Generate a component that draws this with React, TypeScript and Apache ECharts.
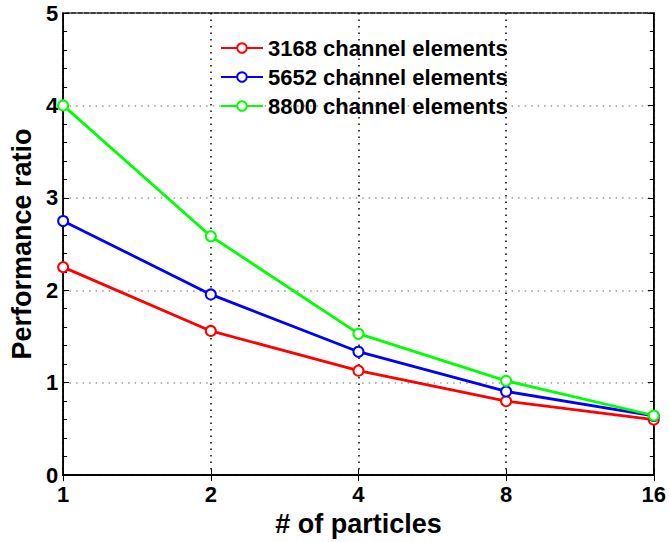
import React, { useEffect, useRef } from "react";
import * as echarts from "echarts";

const particles = ["1", "2", "4", "8", "16"];
const series3168 = [2.25, 1.56, 1.13, 0.8, 0.6];
const series5652 = [2.75, 1.955, 1.335, 0.905, 0.64];
const series8800 = [4.0, 2.585, 1.53, 1.02, 0.645];
const seriesNames = ["3168 channel elements", "5652 channel elements", "8800 channel elements"];
const seriesColors = ["#ff0000", "#0000ff", "#00ff00"];

const FONT = "'Liberation Sans', Arial, Helvetica, sans-serif";

export default function App() {
  const ref = useRef<HTMLDivElement>(null);
  useEffect(() => {
    if (!ref.current) return;
    const chart = echarts.init(ref.current, undefined, { renderer: "svg" });
    const values = [series3168, series5652, series8800];
    chart.setOption({
      animation: false,
      backgroundColor: "#fff",
      textStyle: { fontFamily: FONT },
      grid: {
        left: 58.7,
        right: 15,
        top: 13,
        bottom: 59,
        show: true,
        borderColor: "#000",
        borderWidth: 1.5,
        backgroundColor: "transparent",
      },
      legend: {
        orient: "vertical",
        left: 215,
        top: 32,
        itemWidth: 42,
        itemHeight: 12,
        itemGap: 7,
        textStyle: {
          fontFamily: FONT,
          fontSize: 22,
          fontWeight: "bold",
          color: "#000",
          lineHeight: 22,
        },
        data: seriesNames,
      },
      xAxis: [
        {
          type: "category",
          data: particles,
          boundaryGap: false,
          name: "# of particles",
          nameLocation: "middle",
          nameGap: 29,
          nameTextStyle: { fontFamily: FONT, fontSize: 27, fontWeight: "bold", color: "#000" },
          axisLine: { show: true, lineStyle: { color: "#000", width: 1.5 } },
          axisTick: { show: true, inside: true, length: 6, lineStyle: { color: "#000" } },
          axisLabel: { fontFamily: FONT, fontSize: 22, fontWeight: "bold", color: "#000", margin: 8 },
          splitLine: { show: true, lineStyle: { color: "#000", type: [1.5, 5], width: 1.5 } },
        },
        {
          type: "category",
          data: particles,
          boundaryGap: false,
          position: "top",
          axisLine: { show: true, lineStyle: { color: "#000", width: 1.5 } },
          axisTick: { show: true, inside: true, length: 6, lineStyle: { color: "#000" } },
          axisLabel: { show: false },
          splitLine: { show: false },
        },
      ],
      yAxis: [
        {
          type: "value",
          min: 0,
          max: 5,
          interval: 1,
          name: "Performance ratio",
          nameLocation: "middle",
          nameGap: 24,
          nameTextStyle: { fontFamily: FONT, fontSize: 27, fontWeight: "bold", color: "#000" },
          axisLine: { show: true, lineStyle: { color: "#000", width: 1.5 } },
          axisTick: { show: true, inside: true, length: 6, lineStyle: { color: "#000" } },
          minorTick: { show: true, splitNumber: 5, length: 4, lineStyle: { color: "#000" } },
          axisLabel: {
            fontFamily: FONT,
            fontSize: 22,
            fontWeight: "bold",
            color: "#000",
            margin: 5,
          },
          splitLine: { show: true, lineStyle: { color: "#999", type: [1.5, 5], width: 1.5 } },
        },
        {
          type: "value",
          min: 0,
          max: 5,
          interval: 1,
          position: "right",
          axisLine: { show: true, lineStyle: { color: "#000", width: 1.5 } },
          axisTick: { show: true, inside: true, length: 6, lineStyle: { color: "#000" } },
          minorTick: { show: true, splitNumber: 5, length: 4, lineStyle: { color: "#000" } },
          axisLabel: { show: false },
          splitLine: { show: false },
        },
      ],
      series: seriesNames.map((name, i) => ({
        name,
        type: "line",
        data: values[i],
        color: seriesColors[i],
        symbol: "emptyCircle",
        symbolSize: 10,
        showAllSymbol: true,
        lineStyle: { width: 2.8, color: seriesColors[i] },
        itemStyle: { color: seriesColors[i], borderWidth: 2.5, borderColor: seriesColors[i] },
        z: 3 + i,
      })),
    });
    return () => chart.dispose();
  }, []);
  return <div ref={ref} style={{ width: 669, height: 542, position: "absolute", left: 0, top: 0 }} />;
}
